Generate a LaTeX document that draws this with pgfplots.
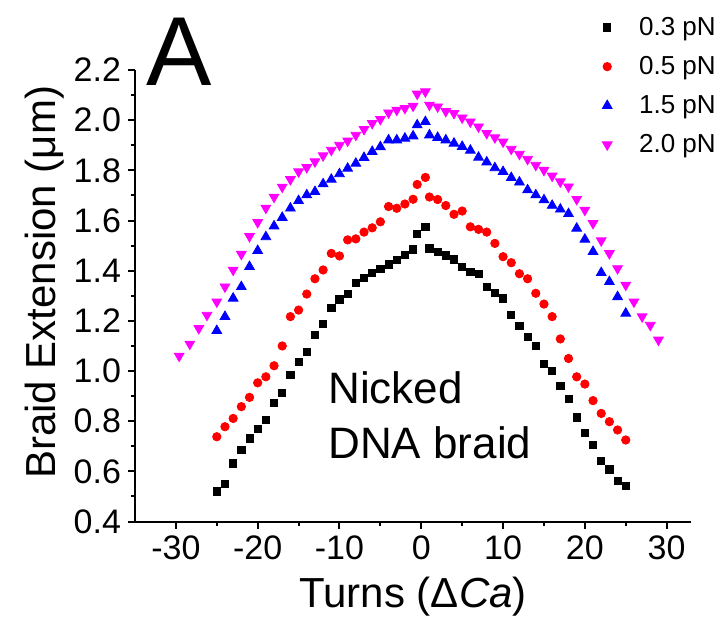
\documentclass[border=0pt]{standalone}
\usepackage{fontspec}
\setmainfont{Liberation Sans}
\usepackage{pgfplots}
\pgfplotsset{compat=1.18}
\definecolor{mymag}{RGB}{255,0,255}
\begin{document}
\begin{tikzpicture}
\useasboundingbox (-67.5pt,-53.25pt) rectangle (289.5pt,260.75pt);
\begin{axis}[
  at={(0pt,0pt)}, anchor=south west,
  scale only axis, width=278.1pt, height=225.7pt,
  xmin=-35, xmax=33, ymin=0.4, ymax=2.2,
  axis x line*=bottom, axis y line*=left,
  axis line style={line width=1pt},
  xtick={-30,-20,-10,0,10,20,30},
  ytick={0.4,0.6,0.8,1.0,1.2,1.4,1.6,1.8,2.0,2.2},
  minor x tick num=1, minor y tick num=1,
  tick align=outside,
  major tick length=3.5pt, minor tick length=2pt,
  every tick/.style={line width=1pt, black},
  tick label style={font=\fontsize{17}{17}\selectfont},
  /pgf/number format/assume math mode=true,
  y tick label style={/pgf/number format/.cd, fixed, fixed zerofill, precision=1},
  xlabel={Turns (Δ\textit{Ca})},
  ylabel={Braid Extension (μm)},
  label style={font=\fontsize{21}{21}\selectfont},
  x label style={at={(axis description cs:0.5,-0.167)}, anchor=center},
  y label style={at={(axis description cs:-0.162,0.53)}, anchor=center},
  legend style={at={(axis description cs:0.8396,1.1276)}, anchor=north west,
    draw=none, fill=none, inner sep=0pt, font=\fontsize{13}{13}\selectfont,
    row sep=5pt, /tikz/every odd column/.append style={column sep=11.5pt}},
  legend cell align=left,
]
\addplot[only marks, mark=square*, mark size=1.8pt, black] table {
-25 0.520
-24 0.550
-23 0.632
-22 0.687
-21 0.731
-20 0.768
-19 0.805
-18 0.874
-17 0.914
-16 0.985
-15 1.035
-14 1.077
-13 1.144
-12 1.187
-11 1.252
-10 1.286
-9 1.306
-8 1.352
-7 1.370
-6 1.390
-5 1.406
-4 1.425
-3 1.443
-2 1.463
-1 1.485
-0.5 1.546
0.5 1.574
1 1.489
2 1.476
3 1.461
4 1.445
5 1.416
6 1.396
7 1.387
8 1.336
9 1.313
10 1.290
11 1.223
12 1.180
13 1.137
14 1.100
15 1.028
16 1.001
17 0.940
18 0.888
19 0.815
20 0.754
21 0.705
22 0.642
23 0.608
24 0.563
25 0.543
};
\addlegendentry{0.3 pN}
\addplot[only marks, mark=*, mark size=2.1pt, red] table {
-25 0.738
-24 0.778
-23 0.811
-22 0.858
-21 0.895
-20 0.953
-19 0.977
-18 1.021
-17 1.100
-16 1.217
-15 1.243
-14 1.307
-13 1.368
-12 1.403
-11 1.469
-10 1.459
-9 1.523
-8 1.527
-7 1.554
-6 1.571
-5 1.595
-4 1.656
-3 1.649
-2 1.666
-1 1.685
-0.5 1.744
0.5 1.772
1 1.694
2 1.684
3 1.660
4 1.625
5 1.638
6 1.575
7 1.565
8 1.554
9 1.509
10 1.456
11 1.432
12 1.388
13 1.368
14 1.310
15 1.267
16 1.217
17 1.128
18 1.050
19 0.977
20 0.948
21 0.882
22 0.831
23 0.798
24 0.765
25 0.725
};
\addlegendentry{0.5 pN}
\addplot[only marks, mark=triangle*, mark size=2.8pt, blue] table {
-25 1.161
-24 1.217
-23 1.290
-22 1.336
-21 1.416
-20 1.480
-19 1.535
-18 1.578
-17 1.612
-16 1.649
-15 1.679
-14 1.702
-13 1.715
-12 1.746
-11 1.764
-10 1.786
-9 1.808
-8 1.828
-7 1.851
-6 1.875
-5 1.894
-4 1.921
-3 1.921
-2 1.928
-1 1.937
-0.5 1.981
0.5 1.994
1 1.941
2 1.931
3 1.921
4 1.908
5 1.895
6 1.880
7 1.852
8 1.833
9 1.810
10 1.795
11 1.771
12 1.753
13 1.722
14 1.702
15 1.682
16 1.660
17 1.645
18 1.627
19 1.569
20 1.525
21 1.476
22 1.392
23 1.356
24 1.296
25 1.230
};
\addlegendentry{1.5 pN}
\addplot[only marks, mark=triangle*, mark size=2.8pt, mymag, every mark/.append style={rotate=180}] table {
-29.6 1.060
-28.3 1.108
-27.2 1.170
-26.2 1.223
-25 1.276
-24 1.336
-23 1.403
-22 1.466
-21 1.537
-20 1.593
-19 1.650
-18 1.694
-17 1.734
-16 1.764
-15 1.795
-14 1.812
-13 1.835
-12 1.859
-11 1.881
-10 1.901
-9 1.918
-8 1.941
-7 1.964
-6 1.988
-5 2.004
-4 2.030
-3 2.041
-2 2.048
-1 2.057
-0.5 2.105
0.5 2.114
1 2.061
2 2.054
3 2.036
4 2.028
5 2.010
6 1.994
7 1.974
8 1.948
9 1.931
10 1.914
11 1.885
12 1.865
13 1.845
14 1.821
15 1.801
16 1.778
17 1.755
18 1.735
19 1.685
20 1.642
21 1.589
22 1.520
23 1.469
24 1.409
25 1.343
26 1.276
27 1.217
28 1.183
29 1.124
};
\addlegendentry{2.0 pN}
\end{axis}
\node[anchor=base west, inner sep=0pt, font=\fontsize{49}{49}\selectfont] at (5.5pt,218.25pt) {A};
\node[anchor=base west, inner sep=0pt, font=\fontsize{22}{22}\selectfont] at (96.5pt,59.25pt) {Nicked};
\node[anchor=base west, inner sep=0pt, font=\fontsize{22}{22}\selectfont] at (96.5pt,31.75pt) {DNA braid};
\end{tikzpicture}
\end{document}
